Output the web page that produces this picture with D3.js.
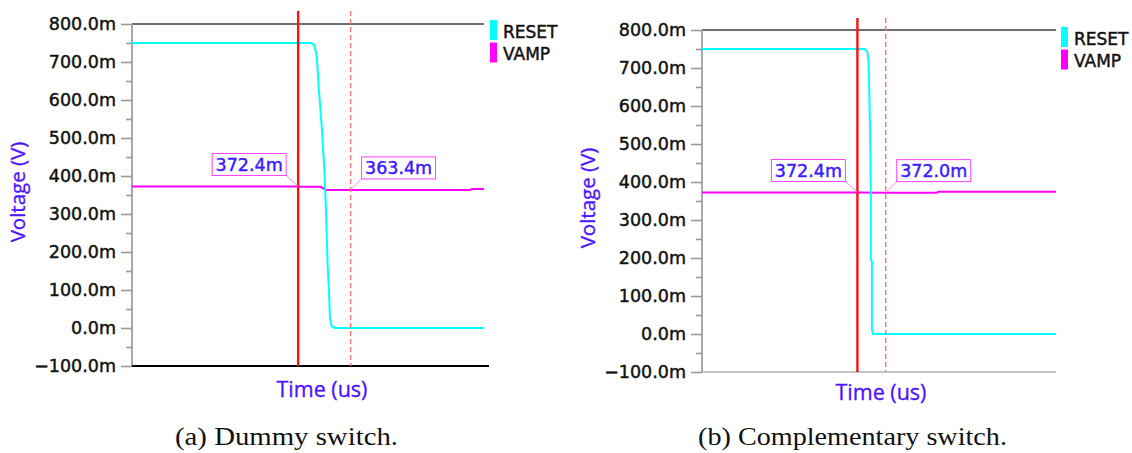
<!DOCTYPE html>
<html>
<head>
<meta charset="utf-8">
<script src="https://cdn.jsdelivr.net/npm/d3@7"></script>
<style>
  html, body { margin: 0; padding: 0; background: #ffffff; }
  svg { display: block; }
</style>
</head>
<body>
<svg id="chart" width="1132" height="453"></svg>
<script>
// ---- data (voltages in mV, time in µs over the shown window) ----
const yTickValues = [-100, 0, 100, 200, 300, 400, 500, 600, 700, 800];
const yMinorValues = [-50, 50, 150, 250, 350, 450, 550, 650, 750];
const seriesNames = ["RESET", "VAMP"];

// (a) Dummy switch
const resetTimeA = [0, 0.508, 0.518, 0.525, 0.531, 0.539, 0.546, 0.550, 0.553, 0.556, 0.560, 0.562, 0.567, 0.577, 1.0];
const resetValA  = [750, 750, 745, 714, 626, 530, 424, 337, 250, 161, 92, 30, 5, 0, 0];
const vampTimeA  = [0, 0.472, 0.480, 0.536, 0.551, 0.960, 0.966, 1.0];
const vampValA   = [372.4, 372.4, 372.0, 371.6, 363.4, 363.4, 365.5, 365.5];
const cursorTimeA = [0.472, 0.621];
const cursorValA  = [372.4, 363.4];

// (b) Complementary switch
const resetTimeB = [0, 0.460, 0.467, 0.470, 0.472, 0.475, 0.477, 0.477, 0.480, 0.480, 0.483, 1.0];
const resetValB  = [750, 750, 743, 721, 660, 528, 353, 195, 191, 11, 0, 0];
const vampTimeB  = [0, 0.439, 0.519, 0.664, 0.667, 1.0];
const vampValB   = [372.4, 372.4, 372.0, 372.0, 374.6, 374.6];
const cursorTimeB = [0.439, 0.519];
const cursorValB  = [372.4, 372.0];

const captions = ["(a) Dummy switch.", "(b) Complementary switch."];

// ---- styling ----
const COLORS = { RESET: "#00ffff", VAMP: "#ff00ff" };
const AXIS_BLUE = "#5014ff";
const LABEL_BLUE = "#3c1cff";
const fmt = v => d3.format(".1f")(v) + "m";

const svg = d3.select("#chart");

// slightly heavier sans text, like the waveform viewer's rendering
function heavy(sel, color, w) {
  return sel.attr("fill", color).attr("stroke", color)
    .attr("stroke-width", w).attr("paint-order", "stroke");
}

function drawPanel(p) {
  const g = svg.append("g");
  const x = d3.scaleLinear().domain([0, 1]).range([p.x0, p.x1]);
  const y = d3.scaleLinear().domain([-100, 800]).range([p.yb, p.yt]);

  // top frame line at 800 m
  g.append("line")
    .attr("x1", p.x0).attr("x2", p.x1)
    .attr("y1", y(800)).attr("y2", y(800))
    .attr("stroke", "#6e6e6e").attr("stroke-width", 2);

  // y axis with major ticks
  const yAxis = d3.axisLeft(y).tickValues(yTickValues).tickFormat(fmt)
    .tickSize(11).tickPadding(5);
  const ax = g.append("g").attr("transform", `translate(${p.x0},0)`).call(yAxis);
  ax.select(".domain").attr("stroke", "#a8a8a8").attr("stroke-width", 2)
    .attr("d", `M0,${y(800)}V${y(-100)}`);
  ax.selectAll(".tick line").attr("stroke", "#9a9a9a").attr("stroke-width", 1.6);
  heavy(ax.selectAll(".tick text"), "#111", 0.45)
    .attr("font-family", "DejaVu Sans").attr("font-size", 17.5);

  // minor ticks
  g.append("g").attr("transform", `translate(${p.x0},0)`)
    .call(d3.axisLeft(y).tickValues(yMinorValues).tickSize(6).tickFormat(""))
    .call(s => s.select(".domain").remove())
    .selectAll(".tick line").attr("stroke", "#9a9a9a").attr("stroke-width", 1.6);

  // bottom axis line
  g.append("line")
    .attr("x1", p.x0).attr("x2", p.x1 + p.bottomExtra)
    .attr("y1", y(-100)).attr("y2", y(-100))
    .attr("stroke", p.bottomColor).attr("stroke-width", 2);

  // axis titles
  heavy(g.append("text"), AXIS_BLUE, 0.35)
    .attr("transform", `translate(${p.ylabX},${(y(800) + y(-100)) / 2 - 3}) rotate(-90)`)
    .attr("text-anchor", "middle")
    .attr("font-family", "Open Sans").attr("font-size", 20.5)
    .text("Voltage (V)");
  heavy(g.append("text"), AXIS_BLUE, 0.35)
    .attr("x", p.xlabX).attr("y", p.xlabY)
    .attr("text-anchor", "middle")
    .attr("font-family", "Open Sans").attr("font-size", 21.5)
    .text("Time (us)");

  // waveforms
  const line = d3.line().x(d => x(d[0])).y(d => y(d[1]));
  const reset = d3.zip(p.resetT, p.resetV);
  const vamp = d3.zip(p.vampT, p.vampV);
  g.append("path").datum(vamp).attr("d", line)
    .attr("fill", "none").attr("stroke", COLORS.VAMP).attr("stroke-width", 2);
  g.append("path").datum(reset).attr("d", line)
    .attr("fill", "none").attr("stroke", COLORS.RESET).attr("stroke-width", 2)
    .attr("stroke-linejoin", "round");

  // cursors: solid reference, dashed delta
  g.append("line")
    .attr("x1", x(p.cursorT[0])).attr("x2", x(p.cursorT[0]))
    .attr("y1", p.cursorTop).attr("y2", y(-100))
    .attr("stroke", "#ff1010").attr("stroke-width", 2.4);
  g.append("line")
    .attr("x1", x(p.cursorT[1])).attr("x2", x(p.cursorT[1]))
    .attr("y1", p.cursorTop).attr("y2", y(-100))
    .attr("stroke", "#ff7474").attr("stroke-width", 1.4)
    .attr("stroke-dasharray", "5,3");

  // cursor readouts
  p.cursorT.forEach((t, i) => {
    const px = x(t), py = y(p.cursorV[i]);
    const w = 74, h = 22;
    const bx = i === 0 ? px - 12 - w : px + 11;
    const by = py - 11 - h;
    const cx = i === 0 ? bx + w : bx;
    g.append("line")
      .attr("x1", cx).attr("y1", by + h).attr("x2", px).attr("y2", py)
      .attr("stroke", "#ff80ff").attr("stroke-width", 1);
    g.append("rect")
      .attr("x", bx).attr("y", by).attr("width", w).attr("height", h)
      .attr("fill", "#ffffff").attr("stroke", "#ff40ff").attr("stroke-width", 1);
    heavy(g.append("text"), LABEL_BLUE, 0.45)
      .attr("x", bx + w / 2).attr("y", by + h / 2 + 6.5)
      .attr("text-anchor", "middle")
      .attr("font-family", "DejaVu Sans").attr("font-size", 17.5)
      .text(fmt(p.cursorV[i]));
  });

  // legend
  seriesNames.forEach((name, i) => {
    g.append("rect")
      .attr("x", p.legX).attr("y", p.legY + i * 22.5)
      .attr("width", 7).attr("height", 20)
      .attr("fill", COLORS[name]);
    heavy(g.append("text"), "#111", 0.45)
      .attr("x", p.legX + 13).attr("y", p.legY + i * 22.5 + 17.5)
      .attr("font-family", "DejaVu Sans").attr("font-size", 17)
      .text(name);
  });

  // caption
  g.append("text")
    .attr("x", p.capX).attr("y", 445)
    .attr("font-family", "Liberation Serif").attr("font-size", 25)
    .attr("textLength", p.capW).attr("lengthAdjust", "spacingAndGlyphs")
    .attr("fill", "#111").text(p.caption);
}

drawPanel({
  x0: 132, x1: 484, yt: 24, yb: 366, bottomExtra: 5, bottomColor: "#000000",
  ylabX: 25, xlabX: 322, xlabY: 397, cursorTop: 11, legX: 490, legY: 20,
  resetT: resetTimeA, resetV: resetValA, vampT: vampTimeA, vampV: vampValA,
  cursorT: cursorTimeA, cursorV: cursorValA,
  caption: captions[0], capX: 175, capW: 223
});
drawPanel({
  x0: 702, x1: 1056, yt: 30, yb: 372, bottomExtra: 0, bottomColor: "#c4c4c4",
  ylabX: 595, xlabX: 881, xlabY: 400, cursorTop: 18, legX: 1061, legY: 27,
  resetT: resetTimeB, resetV: resetValB, vampT: vampTimeB, vampV: vampValB,
  cursorT: cursorTimeB, cursorV: cursorValB,
  caption: captions[1], capX: 698, capW: 309
});
</script>
</body>
</html>
